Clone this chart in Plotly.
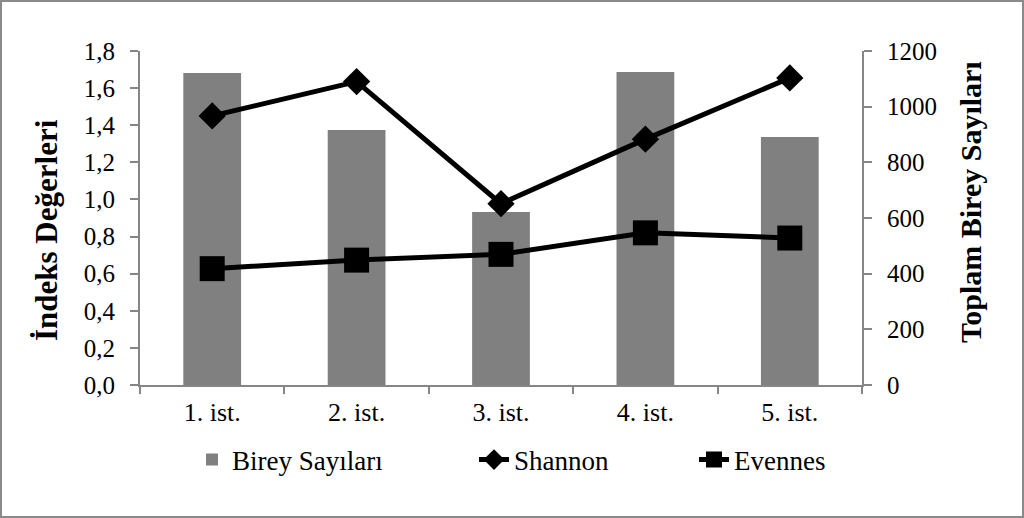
import plotly.graph_objects as go

categories = ["1. ist.", "2. ist.", "3. ist.", "4. ist.", "5. ist."]
birey = [1121, 916, 622, 1125, 891]
shannon = [1.45, 1.635, 0.977, 1.325, 1.655]
evennes = [0.627, 0.673, 0.704, 0.82, 0.792]

left_ticks = [0, 0.2, 0.4, 0.6, 0.8, 1.0, 1.2, 1.4, 1.6, 1.8]
left_labels = ["0,0", "0,2", "0,4", "0,6", "0,8", "1,0", "1,2", "1,4", "1,6", "1,8"]
right_ticks = [0, 200, 400, 600, 800, 1000, 1200]
right_labels = ["0", "200", "400", "600", "800", "1000", "1200"]

W, H = 1024, 518
ml, mr, mt, mb = 140, 162, 51, 133
pw, ph = W - ml - mr, H - mt - mb

def px(x):
    return (x - ml) / pw

def py(y):
    return (H - mb - y) / ph

FF = "Liberation Serif"
axcol = "#868686"

fig = go.Figure()
fig.add_trace(go.Bar(x=categories, y=birey, name="Birey Sayıları",
                     marker=dict(color="#808080", line=dict(width=0)),
                     yaxis="y", width=0.4, legend="legend"))
fig.add_trace(go.Scatter(x=categories, y=shannon, name="Shannon", mode="lines+markers",
                         line=dict(color="black", width=5),
                         marker=dict(symbol="diamond", size=21, color="black"),
                         yaxis="y2", legend="legend2"))
fig.add_trace(go.Scatter(x=categories, y=evennes, name="Evennes", mode="lines+markers",
                         line=dict(color="black", width=5),
                         marker=dict(symbol="square", size=25, color="black"),
                         yaxis="y2", legend="legend3"))

leg_common = dict(orientation="h", xanchor="left", yanchor="middle", y=py(460),
                  font=dict(family=FF, size=27, color="black"),
                  bgcolor="rgba(0,0,0,0)", borderwidth=0)

fig.update_layout(
    width=W, height=H,
    margin=dict(l=ml, r=mr, t=mt, b=mb),
    paper_bgcolor="white", plot_bgcolor="white",
    font=dict(family=FF, size=24, color="black"),
    showlegend=True,
    legend=dict(x=px(192), **leg_common),
    legend2=dict(x=px(474), **leg_common),
    legend3=dict(x=px(694), **leg_common),
    xaxis=dict(type="category", showline=True, linecolor=axcol, linewidth=2,
               ticks="outside", tickson="boundaries", ticklen=7, tickcolor=axcol, tickwidth=2,
               showgrid=False, tickfont=dict(family=FF, size=26),
               ticklabelstandoff=3),
    yaxis=dict(side="right", range=[0, 1200], tickvals=right_ticks, ticktext=right_labels,
               showline=True, linecolor=axcol, linewidth=2, ticks="outside", ticklen=8,
               tickcolor=axcol, tickwidth=2, showgrid=False, zeroline=False,
               tickfont=dict(family=FF, size=25), ticklabelstandoff=10),
    yaxis2=dict(side="left", overlaying="y", range=[0, 1.8], tickvals=left_ticks,
                ticktext=left_labels, showline=True, linecolor=axcol, linewidth=2,
                ticks="outside", ticklen=8, tickcolor=axcol, tickwidth=2, showgrid=False,
                zeroline=False, tickfont=dict(family=FF, size=25),
                ticklabelstandoff=10),
    annotations=[
        dict(text="<b>İndeks Değerleri</b>", textangle=-90, xref="paper", yref="paper",
             x=px(46), y=py(230), xanchor="center", yanchor="middle", showarrow=False,
             font=dict(family=FF, size=31, color="black")),
        dict(text="<b>Toplam Birey Sayıları</b>", textangle=-90, xref="paper", yref="paper",
             x=px(971), y=py(202), xanchor="center", yanchor="middle", showarrow=False,
             font=dict(family=FF, size=30, color="black")),
    ],
)

# outer frame
fig.add_shape(type="rect", xref="paper", yref="paper",
              x0=px(1), x1=px(W - 1), y0=py(H - 1), y1=py(1),
              line=dict(color="#8a8a8a", width=2), layer="below")

fig.write_html("out.html", config={"displayModeBar": False},
               post_script="document.body.style.margin='0';document.body.style.overflow='hidden';")
